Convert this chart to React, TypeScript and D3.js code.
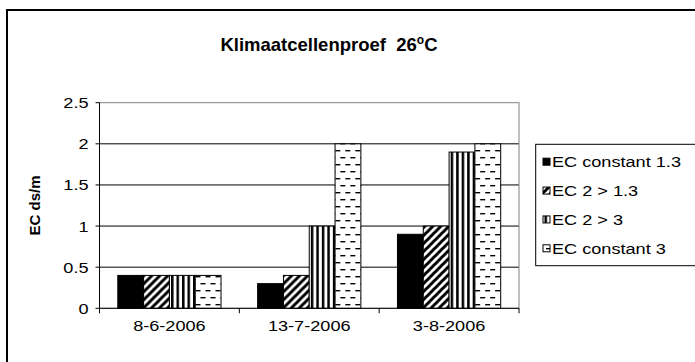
import React from "react";
import * as d3 from "d3";

const categories = ["8-6-2006", "13-7-2006", "3-8-2006"];
const seriesNames = ["EC constant 1.3", "EC 2 > 1.3", "EC 2 > 3", "EC constant 3"];
const ecConstant13 = [0.4, 0.3, 0.9];
const ec2to13 = [0.4, 0.4, 1.0];
const ec2to3 = [0.4, 1.0, 1.9];
const ecConstant3 = [0.4, 2.0, 2.0];
const yTicks = [0, 0.5, 1, 1.5, 2, 2.5];
const seriesValues = [ecConstant13, ec2to13, ec2to3, ecConstant3];
const fills = ["#000", "url(#pDiag)", "url(#pVert)", "url(#pDash)"];

const W = 695, H = 362;
const plotL = 99.5, plotR = 519, plotT = 102.7, plotB = 308.3;
const font = "Liberation Sans, Arial, sans-serif";
const SX = 1.17;
const FS = 15.5;

function T({ x, y, anchor = "start", children, bold = false, size = FS, rotate = 0 }: any) {
  return (
    <text
      transform={`translate(${x},${y}) rotate(${rotate}) scale(${SX},1)`}
      textAnchor={anchor}
      fontFamily={font}
      fontWeight={bold ? "bold" : "normal"}
      fontSize={size}
    >
      {children}
    </text>
  );
}

export default function App() {
  const y = d3.scaleLinear().domain([0, 2.5]).range([plotB, plotT]);
  const x0 = d3.scaleBand<string>().domain(categories).range([plotL, plotR]);
  const bw = x0.bandwidth();
  const pad = 18.3;
  const x1 = d3.scaleBand<string>().domain(seriesNames).range([pad, bw - pad]);
  const legendY = d3.scalePoint<string>().domain(seriesNames).range([161.7, 248.3]);

  return (
    <svg width={W} height={H} style={{ position: "absolute", left: 0, top: 0, background: "#fff" }}>
      <defs>
        <pattern id="pDiag" patternUnits="userSpaceOnUse" width="8" height="8">
          <rect width="8" height="8" fill="#fff" />
          <path d="M-2,10 L10,-2 M-2,2 L2,-2 M6,10 L10,6" stroke="#000" strokeWidth="3" />
        </pattern>
        <pattern id="pVert" patternUnits="userSpaceOnUse" width="5.5" height="8">
          <rect width="5.5" height="8" fill="#fff" />
          <rect x="0" width="2.5" height="8" fill="#000" />
        </pattern>
        <pattern id="pDash" patternUnits="userSpaceOnUse" width="10" height="14">
          <rect width="10" height="14" fill="#fff" />
          <rect x="1" y="3" width="5" height="1.4" fill="#000" />
          <rect x="6" y="10" width="5" height="1.4" fill="#000" />
          <rect x="-4" y="10" width="5" height="1.4" fill="#000" />
        </pattern>
      </defs>
      <rect x={7} y={10} width={800} height={500} fill="#fff" stroke="#000" strokeWidth={2} />

      <text x={329} y={51} textAnchor="middle" fontFamily={font} fontWeight="bold" fontSize={18.5} style={{ whiteSpace: "pre" }}>
        {"Klimaatcellenproef  26"}
        <tspan fontSize={12} dy={-7}>o</tspan>
        <tspan dy={7}>C</tspan>
      </text>

      {/* gridlines */}
      {yTicks.filter((t) => t > 0 && t < 2.5).map((t) => (
        <line key={t} x1={plotL} x2={plotR} y1={y(t)} y2={y(t)} stroke="#000" strokeWidth={1} />
      ))}
      <rect x={plotL} y={plotT} width={plotR - plotL} height={plotB - plotT} fill="none" stroke="#808080" strokeWidth={1} />

      {/* bars */}
      {categories.map((c, ci) => (
        <g key={c} transform={`translate(${x0(c)},0)`}>
          {seriesNames.map((s, si) => {
            const v = seriesValues[si][ci];
            return (
              <rect key={s} x={x1(s)} y={y(v)} width={x1.bandwidth()} height={plotB - y(v)} fill={fills[si]} stroke="#000" strokeWidth={1} />
            );
          })}
        </g>
      ))}

      {/* y axis */}
      <line x1={plotL} x2={plotL} y1={plotT} y2={plotB + 5} stroke="#000" />
      {yTicks.map((t) => (
        <g key={t}>
          <line x1={plotL - 4} x2={plotL} y1={y(t)} y2={y(t)} stroke="#000" />
          <T x={plotL - 11} y={y(t) + 5.5} anchor="end">{t}</T>
        </g>
      ))}
      {/* x axis */}
      <line x1={plotL} x2={plotR} y1={plotB} y2={plotB} stroke="#000" />
      {categories.map((c) => (
        <g key={c}>
          <line x1={(x0(c) as number) + bw} x2={(x0(c) as number) + bw} y1={plotB} y2={plotB + 5} stroke="#000" />
          <T x={(x0(c) as number) + bw / 2} y={331} anchor="middle">{c}</T>
        </g>
      ))}
      <text transform={`translate(40,${(plotT + plotB) / 2}) rotate(-90)`} textAnchor="middle" fontFamily={font} fontWeight="bold" fontSize={15}>EC ds/m</text>

      {/* legend */}
      <rect x={535.7} y={144.3} width={300} height={121.4} fill="#fff" stroke="#000" strokeWidth={1} />
      {seriesNames.map((s, si) => (
        <g key={s}>
          <rect x={543} y={(legendY(s) as number) - 3.5} width={7} height={7} fill={fills[si]} stroke="#000" strokeWidth={1} />
          <T x={552} y={(legendY(s) as number) + 5.5}>{s}</T>
        </g>
      ))}
    </svg>
  );
}
